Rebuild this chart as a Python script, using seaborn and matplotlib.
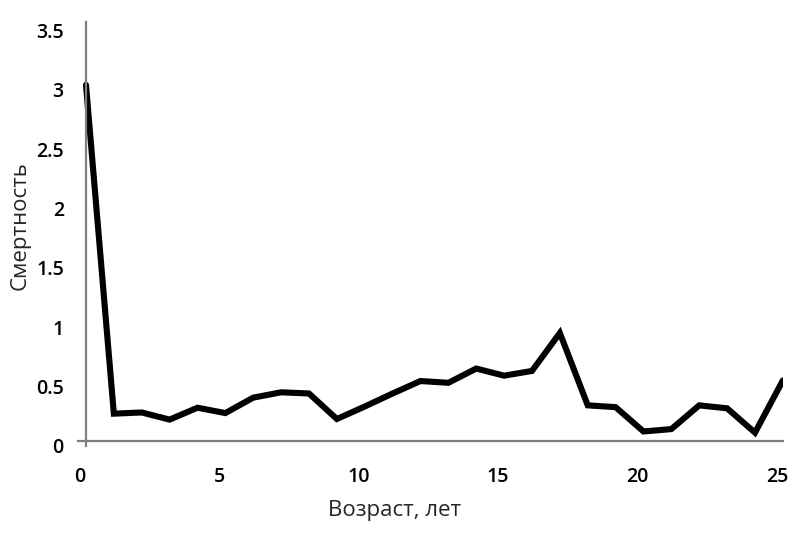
import pandas as pd
import matplotlib.pyplot as plt
import matplotlib.transforms as mtransforms
import seaborn as sns

# values
age = list(range(26))
mortality = [3.0, 0.23, 0.24, 0.18, 0.28, 0.235, 0.365, 0.41, 0.40, 0.185,
             0.29, 0.40, 0.505, 0.49, 0.61, 0.55, 0.59, 0.91, 0.30, 0.285,
             0.08, 0.10, 0.30, 0.275, 0.07, 0.51]
x_ticks = [0, 5, 10, 15, 20, 25]
y_ticks = [0, 0.5, 1, 1.5, 2, 2.5, 3, 3.5]
y_tick_labels = ['0', '0.5', '1', '1.5', '2', '2.5', '3', '3.5']

df = pd.DataFrame({'age': age, 'mortality': mortality})

sns.set_style('white')
plt.rcParams['font.family'] = ['Open Sans', 'DejaVu Sans']

fig = plt.figure(figsize=(7.96, 5.35), dpi=100)
ax = fig.add_axes([0.0975, 0.1669, 0.886, 0.792])

sns.lineplot(data=df, x='age', y='mortality', ax=ax, color='black',
             linewidth=4.4, solid_joinstyle='miter')

ax.set_xlim(-0.3, 25)
ax.set_ylim(-0.04, 3.53)
ax.set_xticks(x_ticks)
ax.set_yticks(y_ticks)
ax.set_yticklabels(y_tick_labels)

for side in ['top', 'right']:
    ax.spines[side].set_visible(False)
for side in ['left', 'bottom']:
    ax.spines[side].set_position(('data', 0))
    ax.spines[side].set_color('#7f7f7f')
    ax.spines[side].set_linewidth(1.6)

ax.tick_params(axis='both', length=0, labelsize=14, colors='black')
ax.tick_params(axis='y', pad=16)
ax.tick_params(axis='x', pad=19)

# labels sit a little off their gridline positions in the original
dy = mtransforms.ScaledTranslation(0, -5 / 100, fig.dpi_scale_trans)
for lab in ax.get_yticklabels():
    lab.set_transform(lab.get_transform() + dy)
    lab.set_fontweight('semibold')
dx = mtransforms.ScaledTranslation(-6 / 100, 0, fig.dpi_scale_trans)
for lab in ax.get_xticklabels():
    lab.set_transform(lab.get_transform() + dx)
    lab.set_fontweight('semibold')

ax.set_xlabel('Возраст, лет', fontsize=16)
ax.set_ylabel('Смертность', fontsize=16)
ax.xaxis.set_label_coords(0.45, -0.128)
ax.yaxis.set_label_coords(-0.066, 0.52)

fig.savefig('out.png', dpi=100)
